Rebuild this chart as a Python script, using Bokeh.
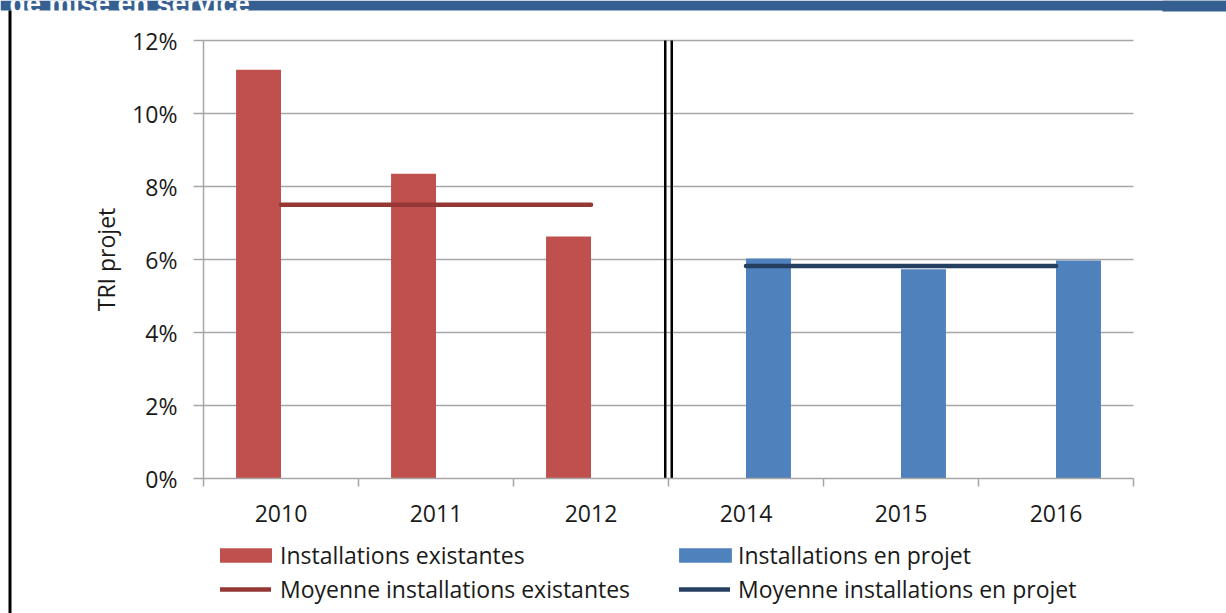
from bokeh.plotting import figure
from bokeh.models import (Range1d, FixedTicker, NumeralTickFormatter, Legend,
                          LegendItem, Label, BoxAnnotation)
from bokeh.embed import file_html
from bokeh.resources import INLINE

# ---- data ----
categories = ["2010", "2011", "2012", "2014", "2015", "2016"]
years_existantes = ["2010", "2011", "2012"]
tri_existantes = [0.112, 0.0835, 0.0663]
years_projet = ["2014", "2015", "2016"]
tri_projet = [0.0603, 0.0573, 0.0597]
moyenne_existantes = 0.075
moyenne_projet = 0.0582
y_ticks = [0.0, 0.02, 0.04, 0.06, 0.08, 0.10, 0.12]
banner_text = "de mise en service"

FONT = "Open Sans"
RED = "#c0504d"
RED_DARK = "#953735"
BLUE = "#4f81bd"
BLUE_DARK = "#243f60"
GRID = "#a6a6a6"
BANNER = "#355f91"
TEXT = "#1a1a1a"

# ---- layout (pixels) ----
W, H = 1226, 613
FL, FR, FT, FB = 203, 1133, 40, 478   # plot area edges
ncat = len(categories)
xpx = (FR - FL) / ncat
ymax = y_ticks[-1]
ypx = (FB - FT) / ymax
x_range = Range1d(-FL / xpx, ncat + (W - FR) / xpx)
y_range = Range1d(-(H - FB) / ypx, ymax + FT / ypx)

center = {c: i + 0.5 for i, c in enumerate(categories)}
dodge = 0.145
bw = 0.29

p = figure(width=W, height=H, output_backend="svg", toolbar_location=None,
           x_range=x_range, y_range=y_range, min_border=0)
p.title.visible = False
p.outline_line_color = None
p.background_fill_color = "white"
p.border_fill_color = "white"
p.xgrid.visible = False
p.ygrid.visible = False

# horizontal grid lines over the plot area
p.segment(x0=0, x1=ncat, y0=y_ticks[1:], y1=y_ticks[1:], line_color=GRID, line_width=1.5)

r_ex = p.vbar(x=[center[c] - dodge for c in years_existantes], top=tri_existantes, width=bw,
              bottom=0, fill_color=RED, line_color=None)
r_pr = p.vbar(x=[center[c] + dodge for c in years_projet], top=tri_projet, width=bw,
              bottom=0, fill_color=BLUE, line_color=None)
r_mex = p.line(x=[center[c] for c in years_existantes], y=[moyenne_existantes] * 3,
               line_color=RED_DARK, line_width=4.5, line_cap="round")
r_mpr = p.line(x=[center[c] for c in years_projet], y=[moyenne_projet] * 3,
               line_color=BLUE_DARK, line_width=4.5, line_cap="round")

# separator (double line between 2012 and 2014)
sep = categories.index("2014")
p.segment(x0=[sep - 0.021, sep + 0.021], x1=[sep - 0.021, sep + 0.021],
          y0=0, y1=ymax, line_color="black", line_width=2.5)

# x axis (at y = 0)
xa = p.xaxis[0]
xa.fixed_location = 0
xa.bounds = (0, ncat)
xa.ticker = FixedTicker(ticks=[center[c] for c in categories],
                        minor_ticks=list(range(ncat + 1)))
xa.major_label_overrides = {center[c]: c for c in categories}
xa.major_tick_line_color = None
xa.major_tick_out = 0
xa.major_tick_in = 0
xa.minor_tick_line_color = GRID
xa.minor_tick_line_width = 1.5
xa.minor_tick_out = 8
xa.minor_tick_in = 0
xa.axis_line_color = GRID
xa.axis_line_width = 1.5
xa.major_label_text_font = FONT
xa.major_label_text_font_size = "23px"
xa.major_label_text_color = TEXT
xa.major_label_standoff = 18

# y axis (at x = 0)
ya = p.yaxis[0]
ya.fixed_location = 0
ya.bounds = (0, ymax)
ya.ticker = FixedTicker(ticks=y_ticks)
ya.formatter = NumeralTickFormatter(format="0%")
ya.minor_tick_line_color = None
ya.major_tick_line_color = GRID
ya.major_tick_line_width = 1.5
ya.major_tick_out = 10
ya.major_tick_in = 0
ya.axis_line_color = GRID
ya.axis_line_width = 1.5
ya.major_label_text_font = FONT
ya.major_label_text_font_size = "23px"
ya.major_label_text_color = TEXT
ya.major_label_standoff = 16
ya.axis_label = "TRI projet"
ya.axis_label_text_font = FONT
ya.axis_label_text_font_size = "23px"
ya.axis_label_text_font_style = "normal"
ya.axis_label_text_color = TEXT
ya.axis_label_standoff = 7

# legend: one entry per box so each swatch can be sized like the reference
def legend_entry(label, renderer, loc, gw, gh, standoff):
    lg = Legend(items=[LegendItem(label=label, renderers=[renderer])], location=loc,
                orientation="vertical", glyph_width=gw, glyph_height=gh,
                label_standoff=standoff, spacing=0, padding=0, margin=0,
                border_line_color=None, background_fill_alpha=0,
                label_text_font=FONT, label_text_font_size="23px", label_text_color=TEXT)
    p.add_layout(lg)

legend_entry("Installations existantes", r_ex, (213, 42), 65, 18, 2)
legend_entry("Moyenne installations existantes", r_mex, (220, 8), 51, 14, 9)
legend_entry("Installations en projet", r_pr, (672, 42), 66, 18, 0)
legend_entry("Moyenne installations en projet", r_mpr, (679, 8), 51, 14, 8)

# page banner remnant at the top and left frame border
p.add_layout(BoxAnnotation(left=0, right=W, bottom=H - 10, top=H,
                           left_units="screen", right_units="screen",
                           bottom_units="screen", top_units="screen",
                           fill_color=BANNER, fill_alpha=1, line_color=None))
p.add_layout(BoxAnnotation(left=1162, right=W, bottom=H - 11, top=H,
                           left_units="screen", right_units="screen",
                           bottom_units="screen", top_units="screen",
                           fill_color=BANNER, fill_alpha=1, line_color=None))
p.add_layout(BoxAnnotation(left=8, right=11, bottom=0, top=H - 10,
                           left_units="screen", right_units="screen",
                           bottom_units="screen", top_units="screen",
                           fill_color="black", fill_alpha=1, line_color=None))
p.add_layout(Label(x=9, y=H - 3, x_units="screen", y_units="screen", text=banner_text,
                   text_font="Liberation Sans", text_font_style="bold", text_font_size="27px",
                   text_color="white", text_baseline="alphabetic"))

open("out.html", "w").write(file_html(p, INLINE))
